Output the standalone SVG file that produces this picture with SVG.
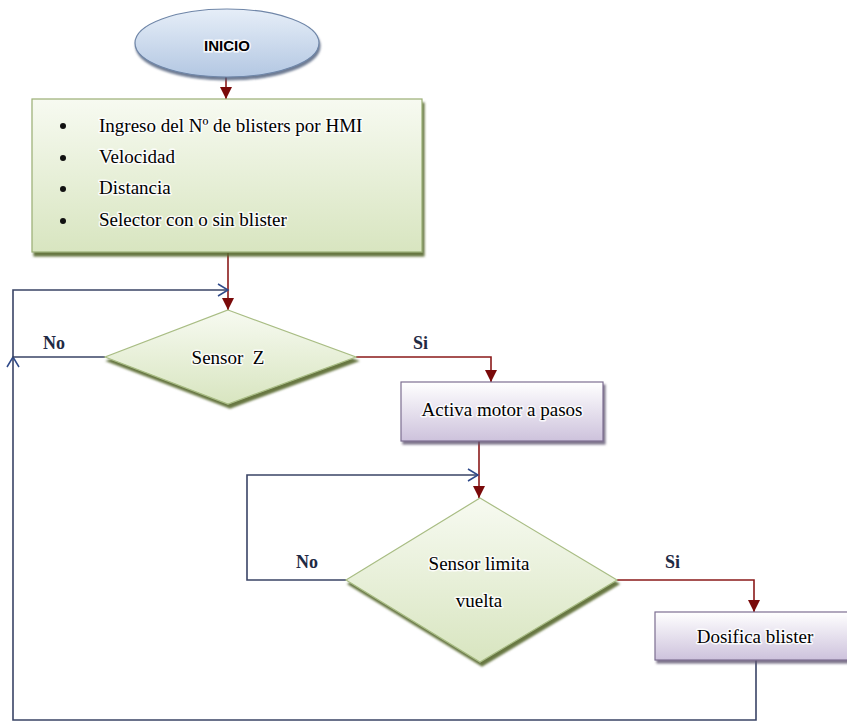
<svg xmlns="http://www.w3.org/2000/svg" width="847" height="722" viewBox="0 0 847 722">
<style>
.t{font-family:"Liberation Serif","Times New Roman",serif;font-size:19px;fill:#000;stroke:#fff;stroke-width:3;stroke-opacity:.85;paint-order:stroke;stroke-linejoin:round}
.lbl{font-family:"Liberation Serif","Times New Roman",serif;font-size:18px;font-weight:bold;fill:#1f2a44}
.red{fill:none;stroke:#8b1a1a;stroke-width:1.6}
.blue{fill:none;stroke:#3a4466;stroke-width:1.6}
</style>
<defs>
<linearGradient id="gGreen" x1="0" y1="0" x2="0" y2="1"><stop offset="0" stop-color="#f7faf1"/><stop offset="1" stop-color="#d8e5c0"/></linearGradient>
<linearGradient id="gPurple" x1="0" y1="0" x2="0" y2="1"><stop offset="0" stop-color="#ffffff"/><stop offset="1" stop-color="#cdc2dc"/></linearGradient>
<linearGradient id="gBlue" x1="0" y1="0" x2="0" y2="1"><stop offset="0" stop-color="#e6eef8"/><stop offset="1" stop-color="#b3c7e2"/></linearGradient>
<filter id="shG" x="-10%" y="-10%" width="130%" height="130%"><feDropShadow dx="2" dy="4" stdDeviation="0.9" flood-color="#56682d" flood-opacity="0.9"/></filter>
<filter id="shP" x="-10%" y="-10%" width="130%" height="130%"><feDropShadow dx="2" dy="3" stdDeviation="0.8" flood-color="#5f5270" flood-opacity="0.8"/></filter>
<filter id="shB" x="-10%" y="-10%" width="130%" height="130%"><feDropShadow dx="1" dy="3" stdDeviation="1" flood-color="#4a5a78" flood-opacity="0.8"/></filter>
<marker id="aRed" markerUnits="userSpaceOnUse" markerWidth="12" markerHeight="12" refX="12" refY="6" orient="auto"><path d="M0,0 L12,6 L0,12 z" fill="#7a0a0a"/></marker>
<marker id="aOpen" markerUnits="userSpaceOnUse" markerWidth="14" markerHeight="14" refX="11" refY="7" orient="auto"><path d="M1,1 L11,7 L1,13" fill="none" stroke="#2f4a8a" stroke-width="1.5"/></marker>
</defs>

<g id="connectors">
<path class="red" d="M226,77 V99" marker-end="url(#aRed)"/>
<path class="red" d="M228,253 V310" marker-end="url(#aRed)"/>
<path class="blue" d="M756,660 V720 H13 V357" marker-end="url(#aOpen)"/>
<path class="blue" d="M105,357 H13 V290 H228" marker-end="url(#aOpen)"/>
<path class="red" d="M356,357 H491 V382" marker-end="url(#aRed)"/>
<path class="red" d="M479,441 V498" marker-end="url(#aRed)"/>
<path class="blue" d="M346,580 H247 V475 H478" marker-end="url(#aOpen)"/>
<path class="red" d="M617,580 H754 V612" marker-end="url(#aRed)"/>
</g>

<g id="inicio">
<ellipse cx="227" cy="43" rx="92" ry="34" fill="url(#gBlue)" stroke="#6f86a8" stroke-width="1.2" filter="url(#shB)"/>
<text x="227" y="51" text-anchor="middle" font-family="'Liberation Sans',Arial,sans-serif" font-size="15" font-weight="bold" fill="#000" stroke="#fff" stroke-width="3" stroke-opacity=".85" paint-order="stroke">INICIO</text>
</g>

<g id="datos">
<rect x="32" y="99" width="390" height="153" fill="url(#gGreen)" stroke="#9aae74" stroke-width="1.2" filter="url(#shG)"/>
<circle cx="63" cy="126" r="3" fill="#111"/>
<circle cx="63" cy="158" r="3" fill="#111"/>
<circle cx="63" cy="189" r="3" fill="#111"/>
<circle cx="63" cy="221" r="3" fill="#111"/>
<text class="t" x="99" y="132">Ingreso del Nº de blisters por HMI</text>
<text class="t" x="99" y="163">Velocidad</text>
<text class="t" x="99" y="194">Distancia</text>
<text class="t" x="99" y="226">Selector con o sin blister</text>
</g>

<g id="sensorZ">
<polygon points="228,310 356,357 228,404 105,357" fill="url(#gGreen)" stroke="#a9bd84" stroke-width="1.2" filter="url(#shG)"/>
<text class="t" x="228" y="364" text-anchor="middle">Sensor&#160; Z</text>
</g>

<g id="activa">
<rect x="401" y="382" width="202" height="59" fill="url(#gPurple)" stroke="#7d6f92" stroke-width="1.2" filter="url(#shP)"/>
<text class="t" x="502" y="416" text-anchor="middle">Activa motor a pasos</text>
</g>

<g id="sensorLimita">
<polygon points="480,498 617,580 480,662 346,580" fill="url(#gGreen)" stroke="#a9bd84" stroke-width="1.2" filter="url(#shG)"/>
<text class="t" x="479" y="570" text-anchor="middle">Sensor limita</text>
<text class="t" x="479" y="607" text-anchor="middle">vuelta</text>
</g>

<g id="dosifica">
<rect x="655" y="612" width="198" height="48" fill="url(#gPurple)" stroke="#7d6f92" stroke-width="1.2" filter="url(#shP)"/>
<text class="t" x="755" y="643" text-anchor="middle">Dosifica blister</text>
</g>

<g id="labels">
<text class="lbl" x="43" y="349">No</text>
<text class="lbl" x="413" y="349">Si</text>
<text class="lbl" x="296" y="568">No</text>
<text class="lbl" x="665" y="568">Si</text>
</g>
</svg>
